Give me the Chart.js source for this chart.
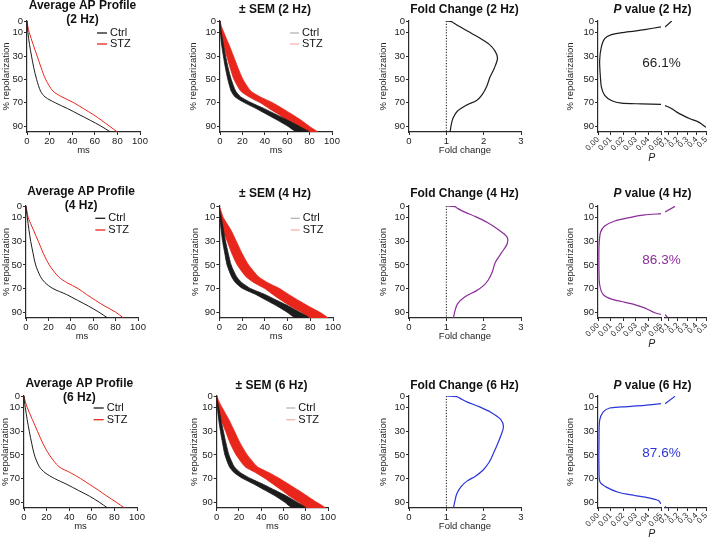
<!DOCTYPE html>
<html>
<head>
<meta charset="utf-8">
<script src="https://cdn.jsdelivr.net/npm/chart.js@4.4.1/dist/chart.umd.min.js"></script>
<style>
  html, body { margin: 0; padding: 0; background: #fff; width: 709px; height: 537px; overflow: hidden; position: relative; }
  canvas { position: absolute; }
</style>
</head>
<body>
<script>
// % repolarization levels used for the AP profiles
const repol = [0, 5, 10, 20, 30, 40, 50, 60, 65, 70, 75, 80, 85, 90, 95]

// mean time (ms) to reach each repolarization level
const ctrl2Hz = [0, 0.3, 0.8, 2.2, 4, 6, 8.5, 12, 16, 25, 36, 46, 56, 65.5, 74]
const stz2Hz = [0, 0.8, 2, 5.4, 9, 12.5, 16.5, 23, 31, 41.5, 50, 58.5, 66, 73, 80]
const ctrl4Hz = [0, 0.4, 1.2, 2.6, 4.2, 6.3, 8.6, 13, 17, 24, 36, 46, 56, 65, 73]
const stz4Hz = [0, 1, 2, 6.5, 11, 15.4, 20.8, 29, 36.5, 46.5, 54, 62, 70.5, 80, 87]
const ctrl6Hz = [0, 0.4, 1.2, 2.8, 4.7, 6.8, 9.2, 13.6, 18.5, 27, 38, 48, 58, 66.5, 74]
const stz6Hz = [0, 1.2, 3, 7.4, 12, 16.6, 22.5, 31, 41, 50, 58, 66, 73.5, 81.5, 89]

// SEM (ms) at each level
const semCtrl2Hz = [0, 0.2, 0.4, 0.8, 1, 1.2, 1.5, 2, 2.5, 3, 3.5, 4, 4.5, 5, 5.5]
const semStz2Hz = [0, 0.6, 1.5, 2.5, 3, 3.5, 4, 4.5, 5, 5.5, 6, 6, 6.5, 6.5, 7]
const semCtrl4Hz = [0, 0.3, 0.6, 1, 1.3, 1.5, 1.8, 2.2, 2.8, 3.5, 4, 4.5, 5, 5.5, 6]
const semStz4Hz = [0, 0.8, 1.6, 3.5, 4, 4.5, 5, 5.5, 6, 6.5, 7, 7.5, 8, 8, 8.5]
const semCtrl6Hz = [0, 0.3, 0.6, 1, 1.3, 1.5, 1.8, 2.2, 2.8, 3.5, 4, 4.5, 5, 5.5, 6]
const semStz6Hz = [0, 1, 2, 3.5, 4, 4.5, 5, 5.5, 6, 6.5, 7, 7.5, 8, 8, 8.5]

// fold change (STZ / Ctrl)
const foldLevels = [0, 0.5, 2, 5, 9, 14, 20, 26, 32, 40, 48, 56, 63, 68, 72, 77, 83, 89, 95]
const fold2Hz = [1.0, 1.14, 1.21, 1.37, 1.59, 1.86, 2.15, 2.31, 2.37, 2.29, 2.17, 2.08, 1.96, 1.81, 1.54, 1.3, 1.18, 1.13, 1.1]
const fold4Hz = [1.0, 1.23, 1.3, 1.48, 1.78, 2.1, 2.39, 2.62, 2.63, 2.47, 2.31, 2.23, 2.12, 1.98, 1.8, 1.5, 1.3, 1.23, 1.19]
const fold6Hz = [1.0, 1.28, 1.37, 1.55, 1.88, 2.2, 2.46, 2.53, 2.48, 2.38, 2.27, 2.15, 1.98, 1.78, 1.56, 1.39, 1.28, 1.23, 1.19]
const foldRefX = [1, 1]
const foldRefY = [0, 95]

// P values: low part (0-0.05) and the two pieces above the axis break
const p2HzLow = [0.05, 0.037, 0.029, 0.0186, 0.0106, 0.0053, 0.0027, 0.0013, 0.0019, 0.0027, 0.0053, 0.0106, 0.0186, 0.0346, 0.05]
const r2HzLow = [5, 7.4, 8.6, 10, 11.7, 15, 22, 34, 48, 56.6, 63.7, 68, 70.3, 70.9, 71.4]
const p2HzTop = [0.065, 0.136]
const r2HzTop = [5.1, 0]
const p2HzTail = [0.065, 0.136, 0.19, 0.26, 0.33, 0.4, 0.45, 0.5]
const r2HzTail = [72.3, 75, 78, 81, 83.7, 85.7, 88, 91]

const p4HzLow = [0.05, 0.037, 0.024, 0.0133, 0.0053, 0.0019, 0.0008, 0.0008, 0.0013, 0.004, 0.0106, 0.0186, 0.029, 0.037, 0.045, 0.05]
const r4HzLow = [6.5, 7.6, 10, 12.7, 17, 22.7, 35, 55, 66.6, 75, 79, 81, 83.6, 86.4, 90.6, 92]
const p4HzTop = [0.065, 0.171]
const r4HzTop = [5.1, 0.3]
const p4HzTail = [0.065, 0.09]
const r4HzTail = [92, 94.3]

const p6HzLow = [0.05, 0.037, 0.0186, 0.0093, 0.004, 0.0013, 0.0008, 0.0008, 0.0016, 0.0066, 0.016, 0.029, 0.04, 0.048, 0.05]
const r6HzLow = [6.5, 8, 9.3, 10.2, 13.6, 20.7, 37.7, 63, 73, 77.3, 81.6, 84.4, 86.4, 88.7, 91.5]
const p6HzTop = [0.065, 0.171]
const r6HzTop = [6.5, 0.3]
const p6HzTail = [0.065, 0.08]
const r6HzTail = [93.5, 95]

const pctSignificant = ["66.1%", "86.3%", "87.6%"]
const freqs = ["2 Hz", "4 Hz", "6 Hz"]
const groups = ["Ctrl", "STZ"]

// tick labels
const yTicks = [0, 10, 30, 50, 70, 90]
const msTicks = [0, 20, 40, 60, 80, 100]
const foldTicks = [0, 1, 2, 3]
const pLowTicks = [0, 0.01, 0.02, 0.03, 0.04, 0.05]
const pHighTicks = [0.1, 0.2, 0.3, 0.4, 0.5]

const FONT = '"Liberation Sans", Arial, Helvetica, sans-serif'
const AXIS = "#2a2a2a"
const BLACK = "#1c1c1c"
const RED = "#e8261b"
const PURPLE = "#8b2c99"
const BLUE = "#2b35d9"

Chart.defaults.font.family = FONT
Chart.defaults.color = "#222"

const pts = (xs, ys) => xs.map((x, i) => ({ x, y: ys[i] }))
const band = (mean, sem) => [
  ...repol.map((r, i) => ({ x: mean[i] + sem[i], y: r })),
  ...repol.map((r, i) => ({ x: mean[i] - sem[i], y: r })).reverse(),
]

// draws titles, legends and the % note at fixed page positions
const panelText = {
  id: "panelText",
  afterDraw(chart, args, o) {
    const ctx = chart.ctx
    ctx.save()
    ctx.textAlign = "left"
    for (const t of o.titles || []) {
      const fonts = t.parts.map((p) => (p.italic ? "italic " : "") + "bold " + t.size + "px " + FONT)
      let w = 0
      t.parts.forEach((p, i) => {
        ctx.font = fonts[i]
        w += ctx.measureText(p.text).width
      })
      let x = t.x - o.left - w / 2
      ctx.fillStyle = "#111"
      ctx.textBaseline = "alphabetic"
      t.parts.forEach((p, i) => {
        ctx.font = fonts[i]
        ctx.fillText(p.text, x, t.y - o.top)
        x += ctx.measureText(p.text).width
      })
    }
    for (const g of o.legend || []) {
      ctx.strokeStyle = g.color
      ctx.lineWidth = 1.3
      ctx.beginPath()
      ctx.moveTo(g.x1 - o.left, g.y - o.top)
      ctx.lineTo(g.x2 - o.left, g.y - o.top)
      ctx.stroke()
      ctx.font = "11px " + FONT
      ctx.fillStyle = "#111"
      ctx.textBaseline = "middle"
      ctx.fillText(g.label, g.tx - o.left, g.y - o.top)
    }
    if (o.note) {
      ctx.font = "13.5px " + FONT
      ctx.fillStyle = o.note.color
      ctx.textAlign = "center"
      ctx.textBaseline = "middle"
      ctx.fillText(o.note.text, o.note.x - o.left, o.note.y - o.top)
    }
    ctx.restore()
  },
}

const yAxis = (g) => ({
  type: "linear",
  position: "left",
  reverse: true,
  min: 0,
  max: 95,
  afterBuildTicks: (s) => { s.ticks = yTicks.map((v) => ({ value: v })) },
  afterFit: (s) => { s.width = g.plotL - g.l },
  grid: { drawOnChartArea: false, tickLength: 3, color: AXIS },
  border: { color: AXIS, width: 1.2 },
  ticks: { padding: 1, color: "#222", font: { size: 9.5 } },
  title: {
    display: true,
    text: "% repolarization",
    color: "#222",
    font: { size: 9.5 },
    padding: { top: g.yTitleX - g.l - 5.7, bottom: 0 },
  },
})

const xAxis = (g, min, max, ticks, title, fmt) => ({
  type: "linear",
  position: "bottom",
  min,
  max,
  afterBuildTicks: (s) => { s.ticks = ticks.map((v) => ({ value: v })) },
  afterFit: (s) => { s.height = g.b - g.plotB },
  grid: { drawOnChartArea: false, tickLength: 3, color: AXIS },
  border: { color: AXIS, width: 1.2 },
  ticks: { padding: 1, color: "#222", font: { size: 9.5 }, autoSkip: false, maxRotation: 0, callback: fmt },
  title: {
    display: !!title,
    text: title,
    color: "#222",
    font: { size: 9.5 },
    padding: { top: 0, bottom: Math.max(g.b - g.plotB - 18 - 5.7, 0) },
  },
})

function makeChart(g, datasets, scales, text) {
  const c = document.createElement("canvas")
  c.width = Math.round(g.r - g.l)
  c.height = Math.round(g.b - g.t)
  c.style.left = g.l + "px"
  c.style.top = g.t + "px"
  document.body.appendChild(c)
  new Chart(c, {
    type: "line",
    data: { datasets },
    options: {
      responsive: false,
      animation: false,
      devicePixelRatio: 1,
      layout: { padding: { left: 0, top: g.plotT - g.t, right: g.r - g.plotR, bottom: 0 } },
      elements: { point: { radius: 0 }, line: { borderWidth: 1.2, tension: 0.3 } },
      scales,
      plugins: {
        legend: { display: false },
        tooltip: { enabled: false },
        panelText: Object.assign({ left: g.l, top: g.t }, text),
      },
    },
    plugins: [panelText],
  })
}

// page layout of the 3 x 4 grid
const rowBox = [
  { t: 0, plotT: 21, plotB: 132 },
  { t: 170, plotT: 206, plotB: 318 },
  { t: 357, plotT: 396, plotB: 508 },
]
const col1Box = [
  { plotL: 27, plotR: 140, yTitleX: 6 },
  { plotL: 26, plotR: 138.3, yTitleX: 6 },
  { plotL: 24, plotR: 136.7, yTitleX: 5 },
]
const col2Box = [
  { plotL: 220, plotR: 332, yTitleX: 193 },
  { plotL: 219.3, plotR: 332.7, yTitleX: 195 },
  { plotL: 216.7, plotR: 328.3, yTitleX: 194 },
]
const titleY = [
  { main: 9, sub: 22.5, single: 12.5 },
  { main: 194.5, sub: 208.5, single: 197 },
  { main: 386.5, sub: 400.5, single: 389 },
]
const legendY = [[33, 44], [218.3, 230], [408, 419.7]]
const noteY = [63, 260.7, 453]

const rows = [
  { ctrl: ctrl2Hz, stz: stz2Hz, semC: semCtrl2Hz, semS: semStz2Hz, fold: fold2Hz, color: BLACK,
    pLow: pts(p2HzLow, r2HzLow), pTop: pts(p2HzTop, r2HzTop), pTail: pts(p2HzTail, r2HzTail) },
  { ctrl: ctrl4Hz, stz: stz4Hz, semC: semCtrl4Hz, semS: semStz4Hz, fold: fold4Hz, color: PURPLE,
    pLow: pts(p4HzLow, r4HzLow), pTop: pts(p4HzTop, r4HzTop), pTail: pts(p4HzTail, r4HzTail) },
  { ctrl: ctrl6Hz, stz: stz6Hz, semC: semCtrl6Hz, semS: semStz6Hz, fold: fold6Hz, color: BLUE,
    pLow: pts(p6HzLow, r6HzLow), pTop: pts(p6HzTop, r6HzTop), pTail: pts(p6HzTail, r6HzTail) },
]

rows.forEach((row, i) => {
  const rb = rowBox[i]
  const ty = titleY[i]
  const ly = legendY[i]
  const c1 = col1Box[i]
  const c2 = col2Box[i]

  // average AP profile
  const g1 = { l: 0, t: rb.t, plotT: rb.plotT, plotB: rb.plotB, b: rb.plotB + 26, plotL: c1.plotL, plotR: c1.plotR, r: c1.plotR + 10, yTitleX: c1.yTitleX }
  const cx1 = (c1.plotL + c1.plotR) / 2 - 1
  makeChart(
    g1,
    [
      { data: pts(row.ctrl, repol), borderColor: BLACK, borderWidth: 1 },
      { data: pts(row.stz, repol), borderColor: RED, borderWidth: 1 },
    ],
    { x: xAxis(g1, 0, 100, msTicks, "ms"), y: yAxis(g1) },
    {
      titles: [
        { parts: [{ text: "Average AP Profile" }], x: cx1, y: ty.main, size: 12 },
        { parts: [{ text: "(" + freqs[i] + ")" }], x: cx1, y: ty.sub, size: 12 },
      ],
      legend: [
        { label: groups[0], color: BLACK, x1: c1.plotR - 43, x2: c1.plotR - 33, tx: c1.plotR - 30, y: ly[0] },
        { label: groups[1], color: RED, x1: c1.plotR - 43, x2: c1.plotR - 33, tx: c1.plotR - 30, y: ly[1] },
      ],
    }
  )

  // +/- SEM bands
  const g2 = { l: 180, t: rb.t, plotT: rb.plotT, plotB: rb.plotB, b: rb.plotB + 26, plotL: c2.plotL, plotR: c2.plotR, r: c2.plotR + 10, yTitleX: c2.yTitleX }
  makeChart(
    g2,
    [
      { data: band(row.ctrl, row.semC), borderColor: BLACK, borderWidth: 0.8, backgroundColor: BLACK, fill: "shape", tension: 0.2 },
      { data: band(row.stz, row.semS), borderColor: RED, borderWidth: 0.8, backgroundColor: RED, fill: "shape", tension: 0.2 },
    ],
    { x: xAxis(g2, 0, 100, msTicks, "ms"), y: yAxis(g2) },
    {
      titles: [{ parts: [{ text: "\u00b1 SEM (" + freqs[i] + ")" }], x: (c2.plotL + c2.plotR) / 2 - 1, y: ty.single, size: 12 }],
      legend: [
        { label: groups[0], color: "#b5b5b5", x1: c2.plotR - 42, x2: c2.plotR - 33, tx: c2.plotR - 30, y: ly[0] },
        { label: groups[1], color: "#f6b3ae", x1: c2.plotR - 42, x2: c2.plotR - 33, tx: c2.plotR - 30, y: ly[1] },
      ],
    }
  )

  // fold change
  const g3 = { l: 360, t: rb.t, plotT: rb.plotT, plotB: rb.plotB, b: rb.plotB + 26, plotL: 409, plotR: 521, r: 531, yTitleX: 383 }
  makeChart(
    g3,
    [
      { data: pts(row.fold, foldLevels), borderColor: row.color, borderWidth: 1.2 },
      { data: pts(foldRefX, foldRefY), borderColor: "#111", borderWidth: 1, borderDash: [1.2, 1.6], tension: 0 },
    ],
    { x: xAxis(g3, 0, 3, foldTicks, "Fold change"), y: yAxis(g3) },
    { titles: [{ parts: [{ text: "Fold Change (" + freqs[i] + ")" }], x: 464.5, y: ty.single, size: 12 }] }
  )

  // P value with broken x axis
  const g4 = { l: 545, t: rb.t, plotT: rb.plotT, plotB: rb.plotB, b: rb.plotB + 32, plotL: 598, plotR: 706, r: 714, yTitleX: 570.5 }
  const xL = xAxis(g4, 0, 0.05, pLowTicks, "P  ", (v) => v.toFixed(2))
  xL.stack = "p"
  xL.stackWeight = 63
  xL.ticks = { padding: 0, color: "#222", font: { size: 8 }, autoSkip: false, minRotation: 45, maxRotation: 45, callback: (v) => v.toFixed(2) }
  xL.title.font = { size: 10.5, style: "italic" }
  xL.title.align = "end"
  xL.title.padding = { top: 0, bottom: 0 }
  const xR = xAxis(g4, 0.065, 0.5, pHighTicks, "", (v) => v.toFixed(1))
  xR.stack = "p"
  xR.stackWeight = 41
  xR.ticks = { padding: 0, color: "#222", font: { size: 8 }, autoSkip: false, minRotation: 45, maxRotation: 45, callback: (v) => v.toFixed(1) }
  const xGap = {
    type: "linear", position: "bottom", min: 0, max: 1, stack: "p", stackWeight: 4,
    grid: { display: false }, border: { display: false }, ticks: { display: false },
    afterFit: (s) => { s.height = g4.b - g4.plotB },
  }
  makeChart(
    g4,
    [
      { data: row.pLow, borderColor: row.color, borderWidth: 1.2, tension: 0.25, xAxisID: "xL" },
      { data: row.pTop, borderColor: row.color, borderWidth: 1.2, tension: 0, xAxisID: "xR" },
      { data: row.pTail, borderColor: row.color, borderWidth: 1.2, tension: 0.2, xAxisID: "xR" },
    ],
    { xL, xGap, xR, y: yAxis(g4) },
    {
      titles: [{ parts: [{ text: "P", italic: true }, { text: " value (" + freqs[i] + ")" }], x: 652.5, y: ty.single, size: 12 }],
      note: { text: pctSignificant[i], color: row.color, x: 661.5, y: noteY[i] },
    }
  )
})
</script>
</body>
</html>
